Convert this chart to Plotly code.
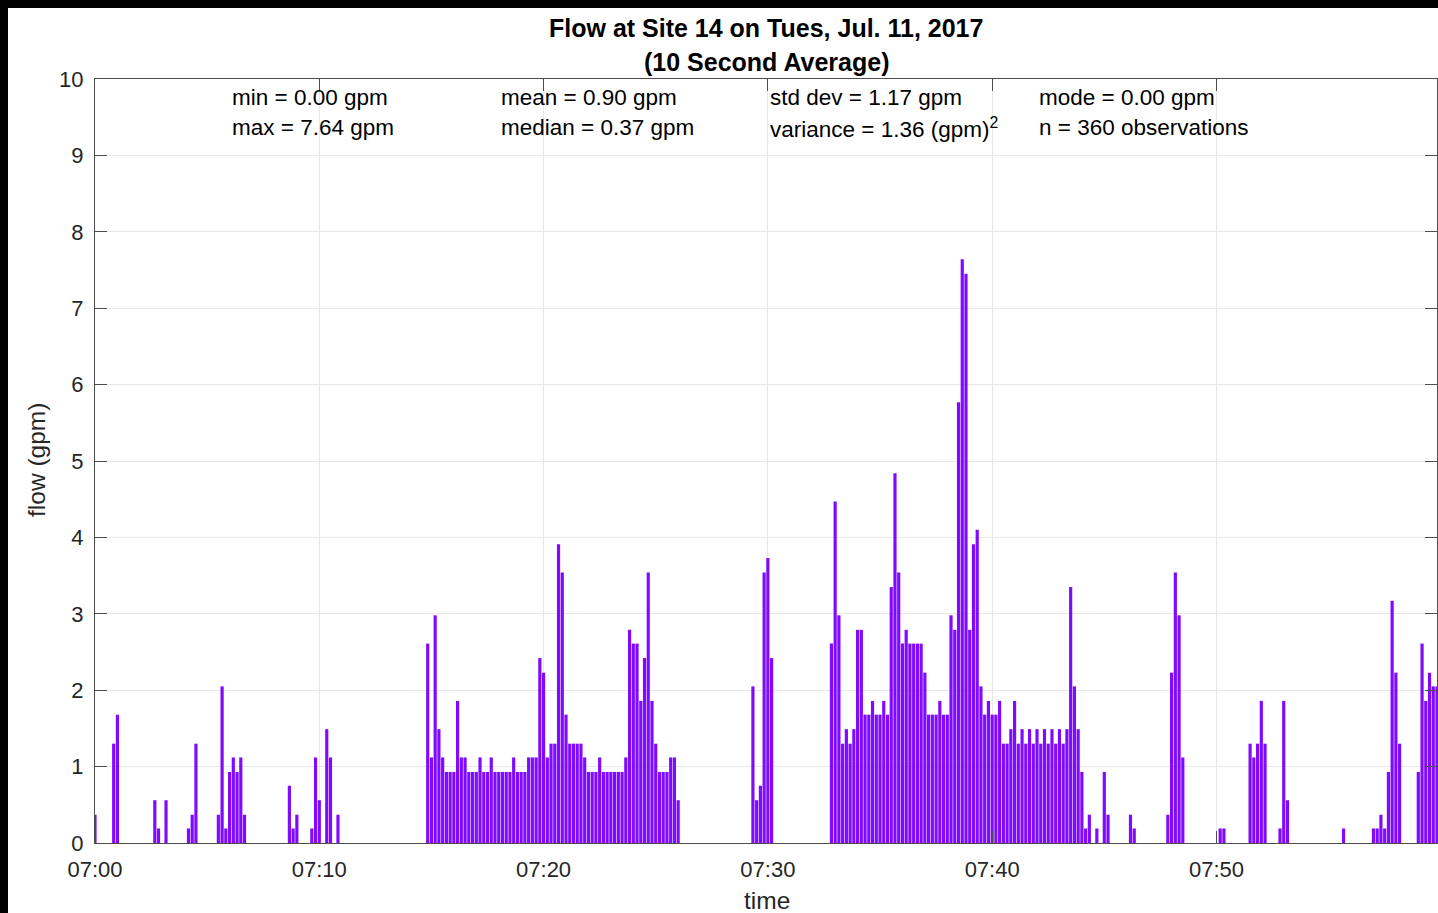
import pandas as pd
import plotly.graph_objects as go

# 10-second average flow (gpm), one row per minute (6 samples each), 07:00-07:59:50
flow_gpm = [
    0.37, 0, 0, 0, 0, 1.30,          # 07:00
    1.68, 0, 0, 0, 0, 0,             # 07:01
    0, 0, 0, 0, 0.56, 0.19,          # 07:02
    0, 0.56, 0, 0, 0, 0,             # 07:03
    0, 0.19, 0.37, 1.30, 0, 0,       # 07:04
    0, 0, 0, 0.37, 2.05, 0.19,       # 07:05
    0.93, 1.12, 0.93, 1.12, 0.37, 0, # 07:06
    0, 0, 0, 0, 0, 0,                # 07:07
    0, 0, 0, 0, 0.75, 0.19,          # 07:08
    0.37, 0, 0, 0, 0.19, 1.12,       # 07:09
    0.56, 0, 1.49, 1.12, 0, 0.37,    # 07:10
    0, 0, 0, 0, 0, 0,                # 07:11
    0, 0, 0, 0, 0, 0,                # 07:12
    0, 0, 0, 0, 0, 0,                # 07:13
    0, 0, 0, 0, 0, 2.61,             # 07:14
    1.12, 2.98, 1.49, 1.12, 0.93, 0.93,  # 07:15
    0.93, 1.86, 1.12, 1.12, 0.93, 0.93,  # 07:16
    0.93, 1.12, 0.93, 0.93, 1.12, 0.93,  # 07:17
    0.93, 0.93, 0.93, 0.93, 1.12, 0.93,  # 07:18
    0.93, 0.93, 1.12, 1.12, 1.12, 2.42,  # 07:19
    2.23, 1.12, 1.30, 1.30, 3.91, 3.54,  # 07:20
    1.68, 1.30, 1.30, 1.30, 1.30, 1.12,  # 07:21
    0.93, 0.93, 0.93, 1.12, 0.93, 0.93,  # 07:22
    0.93, 0.93, 0.93, 0.93, 1.12, 2.79,  # 07:23
    2.61, 2.61, 1.86, 2.42, 3.54, 1.86,  # 07:24
    1.30, 0.93, 0.93, 0.93, 1.12, 1.12,  # 07:25
    0.56, 0, 0, 0, 0, 0,             # 07:26
    0, 0, 0, 0, 0, 0,                # 07:27
    0, 0, 0, 0, 0, 0,                # 07:28
    0, 0, 2.05, 0.56, 0.75, 3.54,    # 07:29
    3.73, 2.42, 0, 0, 0, 0,          # 07:30
    0, 0, 0, 0, 0, 0,                # 07:31
    0, 0, 0, 0, 0, 2.61,             # 07:32
    4.47, 2.98, 1.30, 1.49, 1.30, 1.49,  # 07:33
    2.79, 2.79, 1.68, 1.68, 1.86, 1.68,  # 07:34
    1.68, 1.86, 1.68, 3.35, 4.84, 3.54,  # 07:35
    2.61, 2.79, 2.61, 2.61, 2.61, 2.61,  # 07:36
    2.23, 1.68, 1.68, 1.68, 1.86, 1.68,  # 07:37
    1.68, 2.98, 2.79, 5.77, 7.64, 7.45,  # 07:38
    2.79, 3.91, 4.10, 2.05, 1.68, 1.86,  # 07:39
    1.68, 1.68, 1.86, 1.30, 1.30, 1.49,  # 07:40
    1.86, 1.30, 1.49, 1.30, 1.49, 1.30,  # 07:41
    1.49, 1.30, 1.49, 1.30, 1.49, 1.30,  # 07:42
    1.49, 1.30, 1.49, 3.35, 2.05, 1.49,  # 07:43
    0.93, 0.19, 0.37, 0, 0.19, 0,    # 07:44
    0.93, 0.37, 0, 0, 0, 0,          # 07:45
    0, 0.37, 0.19, 0, 0, 0,          # 07:46
    0, 0, 0, 0, 0, 0.37,             # 07:47
    2.23, 3.54, 2.98, 1.12, 0, 0,    # 07:48
    0, 0, 0, 0, 0, 0,                # 07:49
    0, 0.19, 0.19, 0, 0, 0,          # 07:50
    0, 0, 0, 1.30, 1.12, 1.30,       # 07:51
    1.86, 1.30, 0, 0, 0, 0.19,       # 07:52
    1.86, 0.56, 0, 0, 0, 0,          # 07:53
    0, 0, 0, 0, 0, 0,                # 07:54
    0, 0, 0, 0, 0.19, 0,             # 07:55
    0, 0, 0, 0, 0, 0,                # 07:56
    0.19, 0.19, 0.37, 0.19, 0.93, 3.17,  # 07:57
    2.23, 1.30, 0, 0, 0, 0,          # 07:58
    0.93, 2.61, 1.86, 2.23, 2.05, 2.05,  # 07:59
]

start_time = "2017-07-11 07:00:00"
sample_period = "10s"
tick_times = ["07:00", "07:10", "07:20", "07:30", "07:40", "07:50"]
y_ticks = list(range(0, 11))

title_lines = ["Flow at Site 14 on Tues, Jul. 11, 2017", "(10 Second Average)"]

# summary statistics, two lines per column, anchored at these clock times
stat_times = ["07:06", "07:18", "07:30", "07:42"]
stat_line1 = ["min = 0.00 gpm", "mean = 0.90 gpm", "std dev = 1.17 gpm", "mode = 0.00 gpm"]
stat_line2 = ["max = 7.64 gpm", "median = 0.37 gpm", "variance = 1.36 (gpm)<sup>2</sup>",
              "n = 360 observations"]

times = pd.date_range(start_time, periods=len(flow_gpm), freq=sample_period)
day = "2017-07-11 "

W, H = 1438, 913
ML, MR, MT, MB = 95, 1, 79, 70
PW, PH = W - ML - MR, H - MT - MB

FONT = "Liberation Sans, Arial, Helvetica, sans-serif"
AX = "#262626"
BAR = "#7f0aff"


def px_x(px):
    return (px - ML) / PW


def px_y(py):
    return (H - MB - py) / PH


fig = go.Figure()
fig.add_trace(go.Bar(
    x=times, y=flow_gpm,
    marker=dict(color=BAR, line=dict(width=0)),
    hoverinfo="x+y",
))

axis_common = dict(
    showline=True, linecolor="#4d4d4d", linewidth=1, mirror="ticks",
    ticks="inside", ticklen=12, tickcolor="#4d4d4d", tickwidth=1,
    showgrid=True, gridcolor="#e8e8e8", gridwidth=1,
    zeroline=False,
    tickfont=dict(family=FONT, size=22, color=AX),
)

fig.update_xaxes(
    type="date",
    range=[times[0], times[-1]],
    tickvals=[day + t + ":00" for t in tick_times],
    ticktext=tick_times,
    ticklabelstandoff=7,
    **axis_common,
)
fig.update_yaxes(
    range=[0, 10],
    tickvals=y_ticks,
    ticklabelstandoff=6,
    **axis_common,
)

STAT_SIZE = 22.5
ann = []
for t, l1, l2 in zip(stat_times, stat_line1, stat_line2):
    ann.append(dict(x=day + t + ":00", y=9.76, xref="x", yref="y", text=l1,
                    xanchor="left", yanchor="middle", showarrow=False,
                    font=dict(family=FONT, size=STAT_SIZE, color="#000")))
    ann.append(dict(x=day + t + ":00", y=9.36, xref="x", yref="y", text=l2,
                    xanchor="left", yanchor="middle", showarrow=False,
                    font=dict(family=FONT, size=STAT_SIZE, color="#000")))

ann.append(dict(x=0.5, y=px_y(28), xref="paper", yref="paper", text="<b>%s</b>" % title_lines[0],
                showarrow=False, xanchor="center", yanchor="middle",
                font=dict(family=FONT, size=25, color="#000")))
ann.append(dict(x=0.5, y=px_y(62), xref="paper", yref="paper", text="<b>%s</b>" % title_lines[1],
                showarrow=False, xanchor="center", yanchor="middle",
                font=dict(family=FONT, size=25, color="#000")))
ann.append(dict(x=px_x(37), y=px_y(460), xref="paper", yref="paper", text="flow (gpm)",
                textangle=-90, showarrow=False, xanchor="center", yanchor="middle",
                font=dict(family=FONT, size=24.5, color=AX)))
ann.append(dict(x=px_x(767), y=px_y(900), xref="paper", yref="paper", text="time",
                showarrow=False, xanchor="center", yanchor="middle",
                font=dict(family=FONT, size=24.5, color=AX)))

# dark frame along the top and left edges of the window
shapes = [
    dict(type="rect", xref="paper", yref="paper", x0=px_x(0), x1=px_x(W), y0=px_y(8), y1=px_y(0),
         fillcolor="#000", line=dict(width=0), layer="above"),
    dict(type="rect", xref="paper", yref="paper", x0=px_x(0), x1=px_x(8), y0=px_y(H), y1=px_y(0),
         fillcolor="#000", line=dict(width=0), layer="above"),
]

fig.update_layout(
    width=W, height=H,
    margin=dict(l=ML, r=MR, t=MT, b=MB, pad=0),
    paper_bgcolor="#ffffff", plot_bgcolor="#ffffff",
    bargap=0.15,
    showlegend=False,
    annotations=ann,
    shapes=shapes,
    font=dict(family=FONT),
)

fig.write_html("out.html")
